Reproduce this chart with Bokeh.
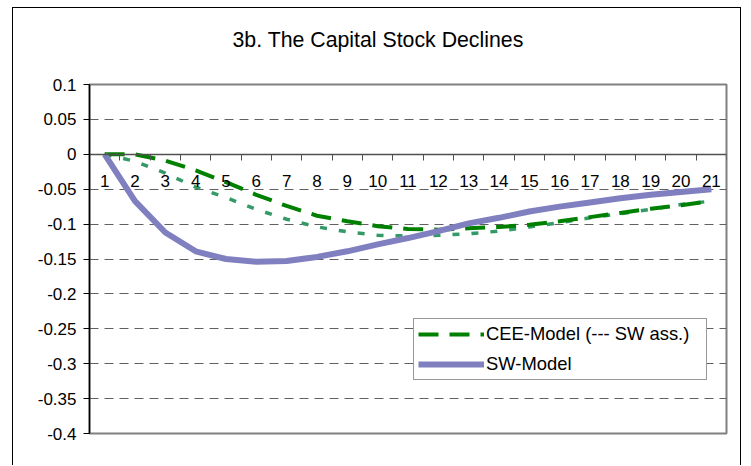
from bokeh.plotting import figure
from bokeh.models import (Range1d, FixedTicker, Legend, LegendItem, Title)
from bokeh.embed import file_html
from bokeh.resources import INLINE

# ---- data ----
periods = list(range(1, 22))
x_labels = [str(i) for i in periods]

cee_model = [0.0, 0.0, -0.009, -0.023, -0.040, -0.058, -0.074, -0.088, -0.096, -0.103,
             -0.107, -0.108, -0.106, -0.104, -0.101, -0.096, -0.090, -0.084, -0.078, -0.073, -0.067]
cee_sw_ass = [0.0, -0.010, -0.027, -0.047, -0.062, -0.079, -0.093, -0.104, -0.111, -0.116,
              -0.117, -0.116, -0.114, -0.110, -0.104, -0.098, -0.091, -0.085, -0.079, -0.072, -0.067]
sw_model = [0.0, -0.067, -0.112, -0.139, -0.150, -0.154, -0.153, -0.147, -0.139, -0.129,
            -0.120, -0.110, -0.099, -0.091, -0.082, -0.075, -0.069, -0.063, -0.058, -0.054, -0.050]

y_ticks = [0.1, 0.05, 0.0, -0.05, -0.1, -0.15, -0.2, -0.25, -0.3, -0.35, -0.4]
y_tick_labels = ["0.1", "0.05", "0", "-0.05", "-0.1", "-0.15", "-0.2", "-0.25", "-0.3", "-0.35", "-0.4"]

title_text = "3b.  The Capital Stock Declines"
legend_labels = ["CEE-Model (--- SW ass.)", "SW-Model"]

FONT = "Liberation Sans"

p = figure(width=729, height=458, output_backend="svg", toolbar_location=None,
           x_range=Range1d(0.5, 21.5), y_range=Range1d(-0.4, 0.1),
           min_border_left=76, min_border_right=16, min_border_top=76, min_border_bottom=33)
p.margin = (7, 0, 0, 12)
p.styles = {"border": "1px solid black", "border-bottom": "none"}

# spacer between frame and title (pushes the title upward)
p.add_layout(Title(text=" ", text_font_size="1px", standoff=30), "above")
p.title = Title(text=title_text, align="left", offset=143, vertical_align="bottom",
                text_font=FONT, text_font_size="21.3px", text_font_style="normal",
                text_color="black", standoff=0)

p.background_fill_color = "white"
p.border_fill_color = "white"
p.outline_line_color = "#808080"
p.outline_line_width = 2

# grid
p.xgrid.visible = False
p.ygrid.ticker = FixedTicker(ticks=[t for t in y_ticks if -0.4 < t < 0.1 and t != 0.0])
p.ygrid.grid_line_color = "#606060"
p.ygrid.grid_line_dash = "9 6"
p.ygrid.grid_line_width = 1

# y axis
ya = p.yaxis[0]
ya.ticker = FixedTicker(ticks=y_ticks)
ya.major_label_overrides = {t: l for t, l in zip(y_ticks, y_tick_labels)}
ya.axis_line_color = "black"
ya.axis_line_width = 1.5
ya.major_tick_line_color = "black"
ya.major_tick_out = 6
ya.major_tick_in = 0
ya.minor_tick_out = 0
ya.minor_tick_in = 0
ya.major_label_standoff = 7
ya.major_label_text_font = FONT
ya.major_label_text_font_size = "17px"
ya.major_label_text_color = "black"

# x axis at y = 0
xa = p.xaxis[0]
xa.fixed_location = 0
xa.ticker = FixedTicker(ticks=periods, minor_ticks=[i - 0.5 for i in periods] + [periods[-1] + 0.5])
xa.major_label_overrides = {i: l for i, l in zip(periods, x_labels)}
xa.axis_line_color = "#505050"
xa.axis_line_width = 1.5
xa.major_tick_out = 0
xa.major_tick_in = 0
xa.minor_tick_out = 6
xa.minor_tick_in = 0
xa.minor_tick_line_color = "#505050"
xa.major_label_standoff = 15
xa.major_label_text_font = FONT
xa.major_label_text_font_size = "17px"
xa.major_label_text_color = "black"

# lines
r_sw_ass = p.line(periods, cee_sw_ass, line_color="#339966", line_width=3.5, line_dash="7 12")
r_cee = p.line(periods, cee_model, line_color="#008000", line_width=4, line_dash="20 11")
r_sw = p.line(periods, sw_model, line_color="#8080C0", line_width=6)

legend = Legend(items=[LegendItem(label=legend_labels[0], renderers=[r_cee]),
                       LegendItem(label=legend_labels[1], renderers=[r_sw])],
                location=(324, 53), orientation="vertical",
                label_text_font=FONT, label_text_font_size="18.4px", label_text_color="black",
                glyph_width=66, glyph_height=18, label_height=18, label_width=216,
                label_standoff=2, spacing=8, padding=4, margin=0,
                border_line_color="#333333", border_line_width=1,
                background_fill_color="white", background_fill_alpha=1.0)
p.add_layout(legend, "center")

open("out.html", "w").write(file_html(p, INLINE))
